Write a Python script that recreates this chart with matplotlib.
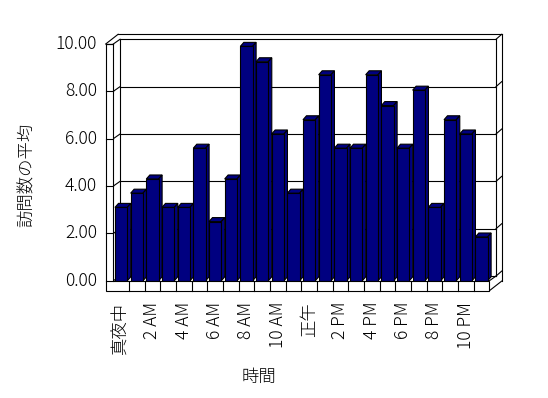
import matplotlib
matplotlib.use('Agg')
import matplotlib.pyplot as plt
from matplotlib.patches import Polygon

plt.rcParams['font.family'] = ['Noto Sans CJK JP', 'DejaVu Sans']
plt.rcParams['font.weight'] = 'light'

# ---- data ----
hours = list(range(24))
avg_visits = [3.1, 3.7, 4.3, 3.1, 3.1, 5.6, 2.5, 4.3, 9.9, 9.25, 6.2, 3.7,
              6.8, 8.7, 5.6, 5.6, 8.7, 7.4, 5.6, 8.05, 3.1, 6.8, 6.2, 1.85]
tick_hours = [0, 2, 4, 6, 8, 10, 12, 14, 16, 18, 20, 22]
tick_labels = ["真夜中", "2 AM", "4 AM", "6 AM", "8 AM", "10 AM", "正午",
               "2 PM", "4 PM", "6 PM", "8 PM", "10 PM"]
y_ticks = [0, 2, 4, 6, 8, 10]
x_title = "時間"
y_title = "訪問数の平均"

# ---- layout ----
W, H = 548, 398
fig = plt.figure(figsize=(W / 100, H / 100), dpi=100)
X0_PX, X1_PX = 113.3, 489.3
Y0_PX, Y10_PX = 280.8, 44.0
ax = fig.add_axes([X0_PX / W, 1 - Y0_PX / H, (X1_PX - X0_PX) / W, (Y0_PX - Y10_PX) / H])
ax.set_xlim(0, 24)
ax.set_ylim(0, 10)
ax.axis('off')

px_x = (X1_PX - X0_PX) / 24
px_y = (Y0_PX - Y10_PX) / 10


def dx(p):
    return p / px_x


def dy(p):
    return p / px_y


inner = (dx(6.7), dy(4.7))
outer = (dx(12.4), dy(9.7))
bar_d = (dx(3.5), dy(4.0))
wall_t = dx(7.6)
slab = dy(10)
bw = 0.785

LW = 0.8
K = 'black'
NAVY = '#000080'


def line(xs, ys, z=1):
    ax.plot(xs, ys, color=K, lw=LW, clip_on=False, zorder=z)


# back wall
for v in y_ticks:
    line([inner[0], 24 + inner[0]], [v + inner[1]] * 2)
    line([24 + inner[0], 24 + outer[0]], [v + inner[1], v + outer[1]])
line([inner[0]] * 2, [inner[1], 10 + inner[1]])
line([24 + inner[0]] * 2, [inner[1], 10 + inner[1]])
line([24 + outer[0]] * 2, [-slab + outer[1], 10 + outer[1]])
line([-wall_t + outer[0], 24 + outer[0]], [10 + outer[1]] * 2)
line([-wall_t, -wall_t + outer[0]], [10, 10 + outer[1]])
line([-wall_t, 0], [10, 10])
for v in y_ticks:
    line([0, inner[0]], [v, v + inner[1]])
line([24, 24 + inner[0]], [0, inner[1]])
line([24, 24 + outer[0]], [-slab, -slab + outer[1]])

# bars (3D look)
centers = [h + 0.5 for h in hours]
for c, v in zip(centers, avg_visits):
    x0 = c - bw / 2
    x1 = c + bw / 2
    top = [(x0, v), (x1, v), (x1 + bar_d[0], v + bar_d[1]), (x0 + bar_d[0], v + bar_d[1])]
    side = [(x1, 0), (x1 + bar_d[0], bar_d[1]), (x1 + bar_d[0], v + bar_d[1]), (x1, v)]
    for pts in (top, side):
        ax.add_patch(Polygon(pts, closed=True, fc=NAVY, ec=K, lw=LW, zorder=2,
                             clip_on=False, joinstyle='miter'))
ax.bar(centers, avg_visits, width=bw, color=NAVY, edgecolor=K, linewidth=LW,
       zorder=2.5, clip_on=False)

# left wall front face + floor slab front face
ax.add_patch(Polygon([(-wall_t, 10), (0, 10), (0, 0), (24, 0), (24, -slab), (-wall_t, -slab)],
                     closed=True, fc='white', ec=K, lw=LW, zorder=3, clip_on=False,
                     joinstyle='miter'))
for h in hours[1:]:
    line([h, h], [0, -slab], z=3.5)
for v in y_ticks:
    line([-wall_t, 0], [v, v], z=3.5)

# tick labels
for v in y_ticks:
    ax.text(-1.04, v, f"{v:.2f}", ha='right', va='center', fontsize=12.5)
for h, lab in zip(tick_hours, tick_labels):
    ax.text(h + 0.5, dy(-21), lab, rotation=90, ha='center', va='top', fontsize=12.5)

fig.text(259 / W, 1 - 377 / H, x_title, ha='center', va='center', fontsize=12.5)
fig.text(27 / W, 1 - 175 / H, y_title, rotation=90, ha='center', va='center', fontsize=12.5)

fig.savefig('out.png', dpi=100)
